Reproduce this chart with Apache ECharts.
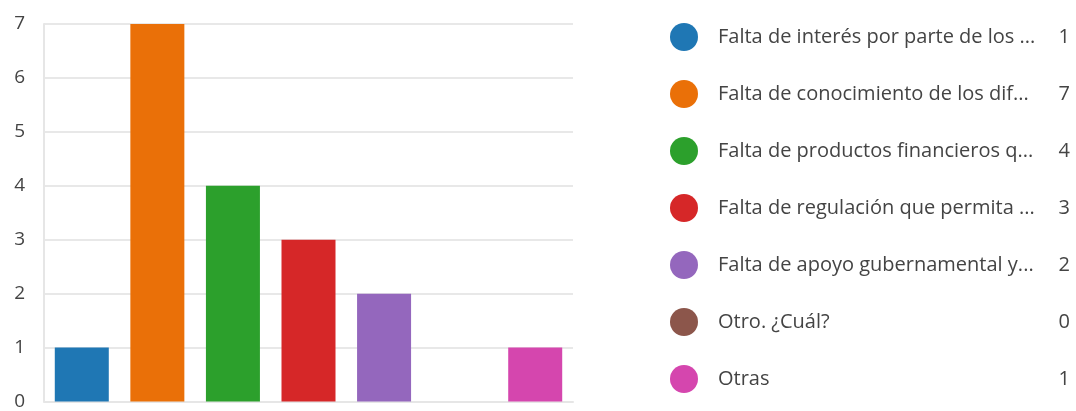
<!DOCTYPE html>
<html><head><meta charset="utf-8">
<script src="https://cdn.jsdelivr.net/npm/echarts@6/dist/echarts.min.js"></script>
<style>html,body{margin:0;padding:0;background:#fff}#c{width:1076px;height:411px}</style>
</head><body><div id="c"></div>
<script>
const categories = [
  'Falta de interés por parte de los ...',
  'Falta de conocimiento de los dif...',
  'Falta de productos financieros q...',
  'Falta de regulación que permita ...',
  'Falta de apoyo gubernamental y...',
  'Otro. ¿Cuál?',
  'Otras'
];
const values = [1, 7, 4, 3, 2, 0, 1];
const colors = ['#1f77b4', '#ea7008', '#2ca02c', '#d62728', '#9467bd', '#8c564b', '#d546ae'];
const yTicks = [0, 1, 2, 3, 4, 5, 6, 7];

const chart = echarts.init(document.getElementById('c'));
const font = '"Open Sans", "Noto Sans", sans-serif';
chart.setOption({
  animation: false,
  grid: { left: 44, right: 503, top: 24, bottom: 6 },
  xAxis: {
    type: 'category', data: categories,
    axisLine: { show: true, lineStyle: { color: '#e6e6e6', width: 2 } },
    axisTick: { show: false }, axisLabel: { show: false }
  },
  yAxis: {
    type: 'value', min: 0, max: yTicks[yTicks.length - 1], interval: 1,
    axisLine: { show: true, lineStyle: { color: '#e6e6e6', width: 2 } },
    axisTick: { show: false },
    axisLabel: { color: '#444', fontSize: 19, fontFamily: font, margin: 19 },
    splitLine: { lineStyle: { color: '#e8e8e8', width: 2 } }
  },
  legend: {
    orient: 'vertical', left: 670, top: 23, padding: 0,
    icon: 'circle', itemWidth: 28, itemHeight: 28, itemGap: 29,
    data: categories,
    formatter: function (name) {
      const i = categories.indexOf(name);
      return '{n|' + name + '}{v|' + values[i] + '}';
    },
    textStyle: {
      color: '#444', fontSize: 20, fontFamily: font,
      rich: {
        n: { width: 340, fontSize: 20, fontFamily: font, color: '#444', padding: [0, 0, 0, 15] },
        v: { width: 12, align: 'right', fontSize: 20, fontFamily: font, color: '#444' }
      }
    }
  },
  series: categories.map(function (c, i) {
    return {
      name: c, type: 'bar', stack: 'all', barWidth: 54,
      itemStyle: { color: colors[i] },
      data: categories.map(function (_, j) { return j === i ? values[i] : '-'; })
    };
  })
});
</script></body></html>
